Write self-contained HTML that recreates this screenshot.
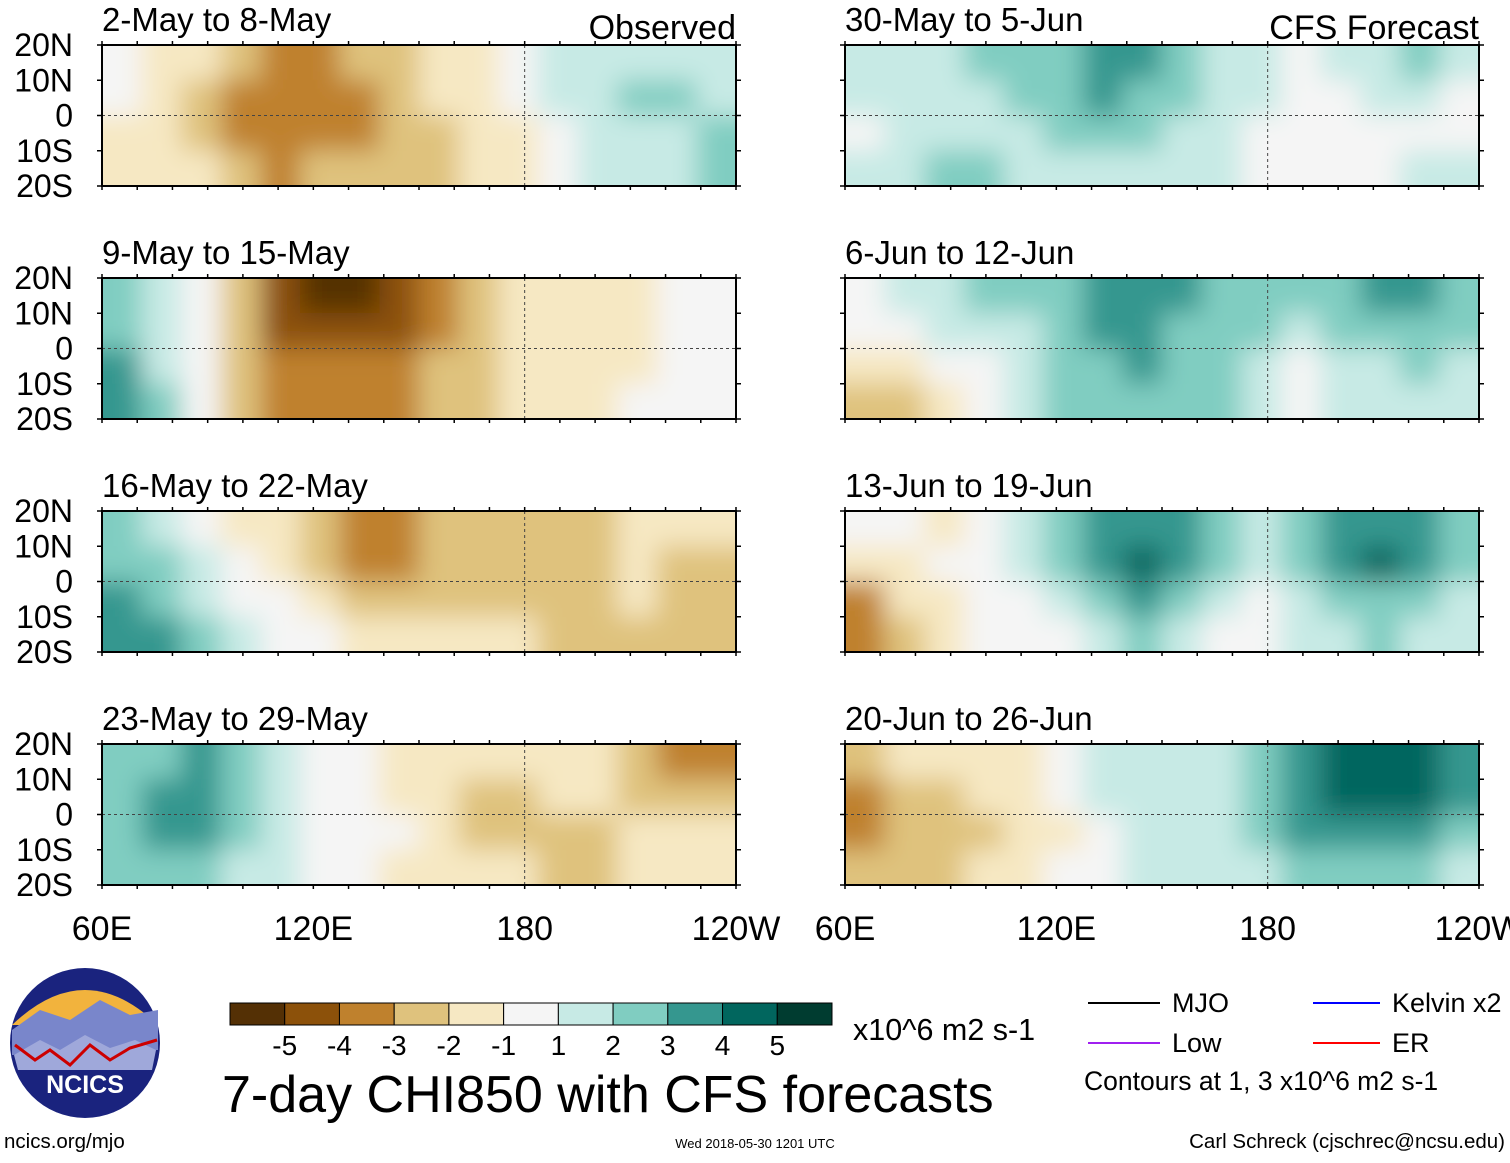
<!DOCTYPE html>
<html><head><meta charset="utf-8"><style>
body{margin:0;background:#fff;}
svg text{font-family:"Liberation Sans",sans-serif;fill:#000;}
</style></head><body>
<svg id="chart" width="1510" height="1158" viewBox="0 0 1510 1158" xmlns="http://www.w3.org/2000/svg">
<defs>
<filter id="blur" x="-20%" y="-40%" width="140%" height="180%"><feGaussianBlur stdDeviation="13"/></filter>
</defs>
<g id="panels"></g>
<g id="legend">
  <g>
    <circle cx="85" cy="1043" r="75" fill="#1a237e"/>
    <path d="M12,1025 Q85,955 158,1025 Z" fill="#f2b33d"/>
    <path d="M12,1030 L40,1010 L70,1020 L100,1000 L130,1015 L158,1010 L158,1050 L12,1055 Z" fill="#7986cb"/>
    <path d="M14,1055 L40,1040 L60,1050 L85,1035 L110,1048 L135,1040 L156,1050 L152,1070 L18,1070 Z" fill="#9fa8da"/>
    <path d="M15,1045 L35,1060 L50,1050 L70,1065 L90,1045 L110,1060 L130,1048 L157,1040" stroke="#c00" stroke-width="3" fill="none"/>
    <text x="85" y="1093" text-anchor="middle" font-size="25" font-weight="bold" style="fill:#fff">NCICS</text>
  </g>
  <g id="colorbar"></g>
  <text x="853" y="1040" font-size="30.5">x10^6 m2 s-1</text>
  <text x="222" y="1112" font-size="52">7-day CHI850 with CFS forecasts</text>
  <line x1="1088" y1="1003" x2="1160" y2="1003" stroke="#000" stroke-width="2"/>
  <text x="1172" y="1012" font-size="27">MJO</text>
  <line x1="1088" y1="1043" x2="1160" y2="1043" stroke="#a020f0" stroke-width="2"/>
  <text x="1172" y="1052" font-size="27">Low</text>
  <line x1="1313" y1="1003" x2="1380" y2="1003" stroke="#0000ff" stroke-width="2"/>
  <text x="1392" y="1012" font-size="27">Kelvin x2</text>
  <line x1="1313" y1="1043" x2="1380" y2="1043" stroke="#ff0000" stroke-width="2"/>
  <text x="1392" y="1052" font-size="27">ER</text>
  <text x="1084" y="1090" font-size="26.5">Contours at 1, 3 x10^6 m2 s-1</text>
  <text x="4" y="1148" font-size="20.5">ncics.org/mjo</text>
  <text x="755" y="1148" font-size="13" text-anchor="middle">Wed 2018-05-30 1201 UTC</text>
  <text x="1505" y="1148" font-size="20.5" text-anchor="end">Carl Schreck (cjschrec@ncsu.edu)</text>
</g>
</svg>
<script>
const levelColors = ["#543005","#8c510a","#bf812d","#dfc27d","#f6e8c3","#f5f5f5","#c7eae5","#80cdc1","#35978f","#01665e","#003c30"];
const colorbarLabels = ["-5","-4","-3","-2","-1","1","2","3","4","5"];
const panelTitles = ["2-May to 8-May","9-May to 15-May","16-May to 22-May","23-May to 29-May","30-May to 5-Jun","6-Jun to 12-Jun","13-Jun to 19-Jun","20-Jun to 26-Jun"];
const latLabels = ["20N","10N","0","10S","20S"];
const lonLabels = ["60E","120E","180","120W"];
const p1 = [[0,-1,-1,-2,-3,-3,-2,-2,-1,-1,0,1,1,1,1,1],[0,-1,-2,-3,-3,-3,-3,-2,-1,-1,0,1,1,2,2,1],[-1,-1,-2,-3,-3,-3,-3,-2,-2,-1,-1,0,1,1,1,2],[-1,-1,-1,-2,-3,-2,-2,-2,-2,-1,-1,0,1,1,1,2]];
const p2 = [[2,1,0,-2,-4,-5,-5,-4,-3,-2,-1,-1,-1,-1,0,0],[2,1,0,-2,-4,-4,-4,-4,-3,-2,-1,-1,-1,-1,0,0],[3,1,0,-2,-3,-3,-3,-3,-2,-2,-1,-1,-1,-1,0,0],[3,2,0,-2,-3,-3,-3,-3,-2,-2,-1,-1,-1,0,0,0]];
const p3 = [[2,1,0,-1,-1,-2,-3,-3,-2,-2,-2,-2,-2,-1,-1,-1],[2,2,1,0,-1,-2,-3,-3,-2,-2,-2,-2,-2,-1,-2,-2],[3,2,1,0,0,-1,-2,-2,-2,-2,-2,-2,-2,-1,-2,-2],[3,3,2,1,0,0,-1,-1,-1,-1,-1,-2,-2,-2,-2,-2]];
const p4 = [[2,2,3,2,1,0,0,-1,-1,-1,-1,-1,-1,-2,-3,-3],[2,3,3,2,1,0,0,-1,-1,-2,-2,-1,-1,-2,-2,-2],[2,3,3,2,1,0,0,0,-1,-2,-2,-2,-2,-1,-1,-1],[2,2,2,1,1,0,0,-1,-1,-1,-1,-2,-2,-1,-1,-1]];
const p5 = [[1,1,1,2,2,2,3,3,2,1,1,0,1,1,2,1],[1,1,1,1,2,2,3,2,2,1,1,0,0,1,1,0],[0,1,1,1,1,2,2,2,1,1,0,0,0,0,0,0],[1,1,2,2,1,1,1,1,1,1,0,0,0,0,1,1]];
const p6 = [[0,1,1,2,2,2,3,3,3,2,2,2,2,3,3,2],[0,0,1,1,1,2,3,3,2,2,2,1,2,2,2,2],[-1,-1,0,0,1,2,2,3,2,2,1,0,1,1,2,1],[-2,-2,-1,0,1,2,2,2,2,2,1,0,1,1,1,1]];
const p7 = [[0,0,-1,0,1,2,3,3,3,2,1,2,3,3,3,2],[-1,-1,0,0,1,2,3,4,3,2,1,2,3,4,3,2],[-3,-1,-1,0,0,1,2,3,2,1,0,1,2,2,2,1],[-3,-2,-1,0,0,0,1,2,1,0,0,1,1,2,1,1]];
const p8 = [[-2,-1,-1,-1,-1,0,1,1,1,1,2,3,4,4,4,3],[-3,-2,-2,-1,-1,0,1,1,1,1,2,3,4,4,4,3],[-3,-2,-2,-2,-1,-1,0,1,1,1,2,3,3,3,3,2],[-2,-2,-2,-1,-1,0,0,1,1,1,1,2,2,2,2,1]];
const fields = [p1,p2,p3,p4,p5,p6,p7,p8];

const NS="http://www.w3.org/2000/svg";
function mk(tag,attrs,parent){const e=document.createElementNS(NS,tag);for(const k in attrs)e.setAttribute(k,attrs[k]);parent.appendChild(e);return e;}
const W=634,H=141,colX=[102,845],rowY=[45,278,511,744];
const root=document.getElementById('panels');
fields.forEach((f,i)=>{
  const px=colX[Math.floor(i/4)], py=rowY[i%4];
  const g=mk('g',{},root);
  
  
  const cp=mk('clipPath',{id:'cp'+i},g);
  mk('rect',{x:px,y:py,width:W,height:H},cp);
  const cg=mk('g',{'clip-path':'url(#cp'+i+')'},g);
  const fg=mk('g',{filter:'url(#blur)'},cg);
  const nr=f.length,nc=f[0].length,cw=W/nc,ch=H/nr;
  const xs=c=>px+c*cw, ys=r=>py+r*ch;
  f.forEach((row,r)=>row.forEach((v,c)=>{
    const x0=c===0?xs(c)-40:xs(c), x1=c===nc-1?xs(c+1)+40:xs(c+1);
    const y0=r===0?ys(r)-40:ys(r), y1=r===nr-1?ys(r+1)+40:ys(r+1);
    const cell=mk('rect',{x:x0,y:y0,width:x1-x0+0.5,height:y1-y0+0.5,fill:levelColors[Math.max(-5,Math.min(5,v))+5]},fg);
    
    
  }));
  mk('line',{x1:px,y1:py+H/2,x2:px+W,y2:py+H/2,stroke:'#444','stroke-dasharray':'3,3','stroke-width':1},g);
  mk('line',{x1:px+W*2/3,y1:py,x2:px+W*2/3,y2:py+H,stroke:'#444','stroke-dasharray':'3,3','stroke-width':1},g);
  mk('rect',{x:px,y:py,width:W,height:H,fill:'none',stroke:'#000','stroke-width':2},g);
  for(let k=0;k<=18;k++){const tx=px+k*W/18;
    mk('line',{x1:tx,y1:py,x2:tx,y2:py-4,stroke:'#000','stroke-width':1.5},g);
    mk('line',{x1:tx,y1:py+H,x2:tx,y2:py+H+4,stroke:'#000','stroke-width':1.5},g);}
  for(let k=0;k<=4;k++){const ty=py+k*H/4;
    mk('line',{x1:px-5,y1:ty,x2:px,y2:ty,stroke:'#000','stroke-width':1.5},g);
    mk('line',{x1:px+W,y1:ty,x2:px+W+5,y2:ty,stroke:'#000','stroke-width':1.5},g);}
  const t=mk('text',{x:px,y:py-14,'font-size':33},g);t.textContent=panelTitles[i];
  
  
  if(i%4===0){const s=mk('text',{x:px+W,y:py-6,'font-size':34,'text-anchor':'end'},g);s.textContent=i===0?'Observed':'CFS Forecast';
    
    }
  if(i<4){latLabels.forEach((l,k)=>{const lt=mk('text',{x:73,y:py+k*H/4+11,'font-size':32,'text-anchor':'end'},g);lt.textContent=l;
    
    });}
  if(i%4===3){lonLabels.forEach((l,k)=>{const lt=mk('text',{x:px+k*W/3,y:py+H+55,'font-size':34,'text-anchor':'middle'},g);lt.textContent=l;
    
    });}
});
const cb=document.getElementById('colorbar');
const bx=230,bw=602/levelColors.length;
levelColors.forEach((c,k)=>{const r=mk('rect',{x:bx+k*bw,y:1003,width:bw,height:22,fill:c,stroke:'#000','stroke-width':1},cb);
  
  });
colorbarLabels.forEach((l,k)=>{const t=mk('text',{x:bx+(k+1)*bw,y:1055,'font-size':28,'text-anchor':'middle'},cb);t.textContent=l;
  
  });
</script>
</body></html>
